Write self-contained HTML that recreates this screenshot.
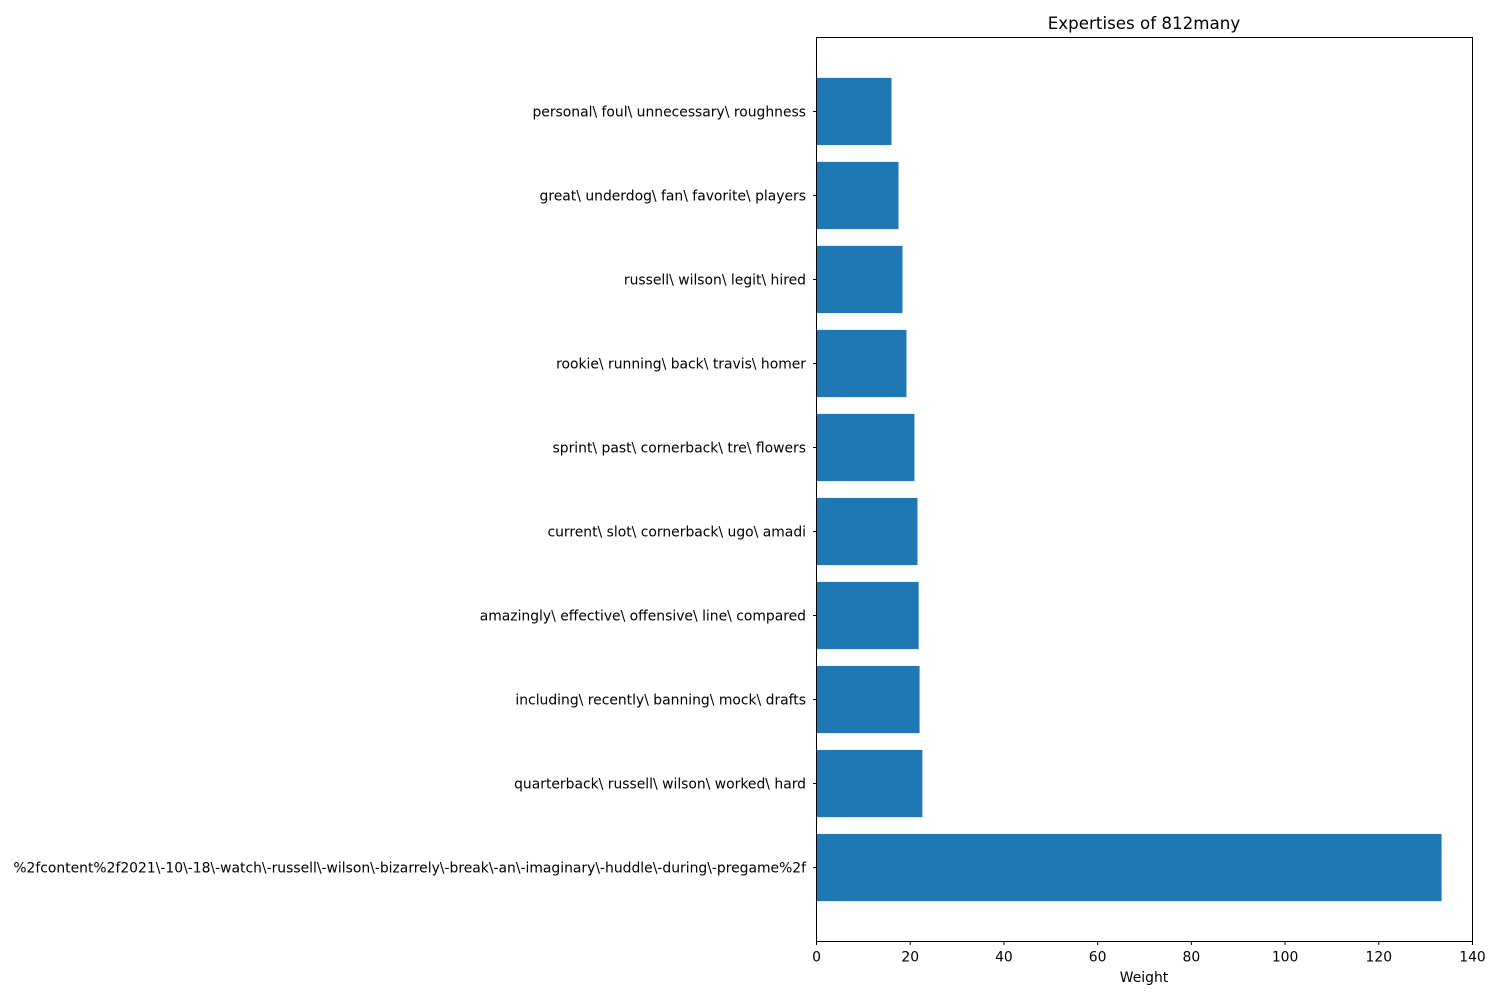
<!DOCTYPE html>
<html><head><meta charset="utf-8"><style>
body{margin:0;background:#fff}
svg text{font-family:"DejaVu Sans","Liberation Sans",sans-serif;font-size:13.9px;fill:#000}
</style></head><body>
<svg id="chart" width="1500" height="1000" xmlns="http://www.w3.org/2000/svg">
<text x="1144" y="29" text-anchor="middle" style="font-size:16.7px">Expertises of 812many</text>
<g id="bars"></g>
<g id="yticks"></g>
<g id="xticks"></g>
<rect x="816.5" y="37.5" width="656" height="904" fill="none" stroke="#000" stroke-width="1"/>
<text x="1144" y="982" text-anchor="middle">Weight</text>
</svg>
<script>
const categories = [
"%2fcontent%2f2021\\-10\\-18\\-watch\\-russell\\-wilson\\-bizarrely\\-break\\-an\\-imaginary\\-huddle\\-during\\-pregame%2f",
"quarterback\\ russell\\ wilson\\ worked\\ hard",
"including\\ recently\\ banning\\ mock\\ drafts",
"amazingly\\ effective\\ offensive\\ line\\ compared",
"current\\ slot\\ cornerback\\ ugo\\ amadi",
"sprint\\ past\\ cornerback\\ tre\\ flowers",
"rookie\\ running\\ back\\ travis\\ homer",
"russell\\ wilson\\ legit\\ hired",
"great\\ underdog\\ fan\\ favorite\\ players",
"personal\\ foul\\ unnecessary\\ roughness"
];
const values = [133.4, 22.6, 22.0, 21.8, 21.55, 20.9, 19.2, 18.35, 17.5, 16.0];
const xTicks = [0, 20, 40, 60, 80, 100, 120, 140];

const NS = "http://www.w3.org/2000/svg";
const L = 816.5, R = 1472.5, T = 37.5, B = 941.5;
const xMin = 0, xMax = 140;
const n = categories.length;
const yMin = -0.4 - 0.049 * (n - 0.2) , yMax = n - 1 + 0.4 + 0.049 * (n - 0.2);
const x = v => L + (v - xMin) / (xMax - xMin) * (R - L);
const y = v => B - (v - yMin) / (yMax - yMin) * (B - T);
const bandH = (B - T) / (yMax - yMin);
function mk(tag, attrs){const e=document.createElementNS(NS,tag);for(const k in attrs)e.setAttribute(k,attrs[k]);return e;}
const bars=document.getElementById('bars'), yt=document.getElementById('yticks'), xt=document.getElementById('xticks');
values.forEach((v,i)=>{
  const r=mk('rect',{x:x(0),y:y(i)-0.4*bandH,width:x(v)-x(0),height:0.8*bandH,fill:'#1f77b4'});
  
  
  bars.appendChild(r);
  const tk=mk('line',{x1:L-3.5,x2:L,y1:y(i),y2:y(i),stroke:'#000'});
  
  
  yt.appendChild(tk);
  const t=mk('text',{x:L-10.5,y:y(i)+5,'text-anchor':'end'});
  t.textContent=categories[i];
  
  
  yt.appendChild(t);
});
xTicks.forEach(v=>{
  const tk=mk('line',{x1:x(v),x2:x(v),y1:B,y2:B+3.5,stroke:'#000'});
  
  
  xt.appendChild(tk);
  const t=mk('text',{x:x(v),y:B+20,'text-anchor':'middle'});
  t.textContent=v;
  
  
  xt.appendChild(t);
});
</script>
</body></html>
